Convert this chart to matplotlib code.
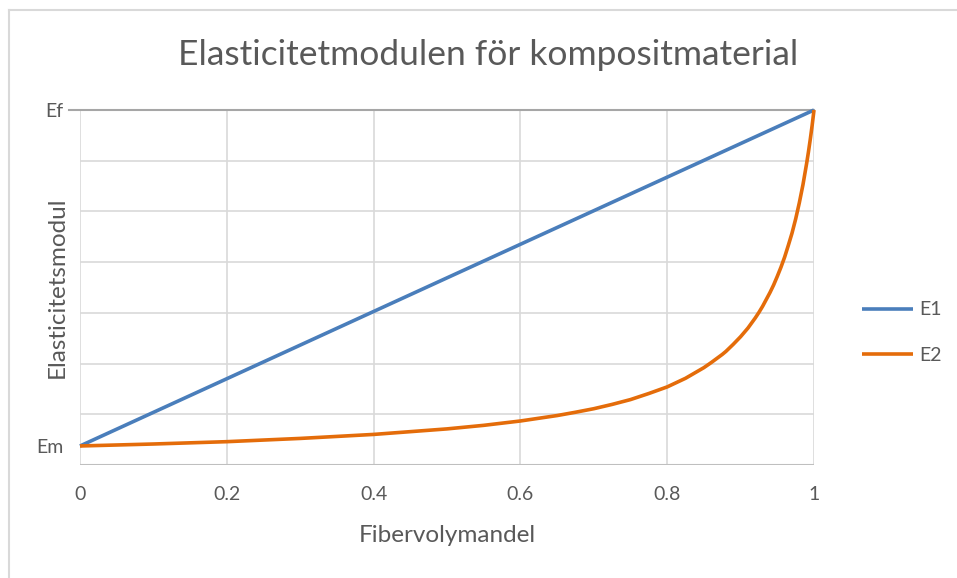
import matplotlib
matplotlib.use("Agg")
import matplotlib.pyplot as plt
from matplotlib.lines import Line2D

# ---- data (y in grid units, 0..7) ----
v_e1 = [0.0, 0.5, 1.0]
e1 = [0.375, 3.69, 7.0]

v_e2 = [0.0, 0.1, 0.2, 0.3, 0.4, 0.5, 0.55, 0.6, 0.65, 0.675, 0.7, 0.725, 0.75,
        0.775, 0.8, 0.825, 0.85, 0.86, 0.875, 0.88, 0.89, 0.9, 0.91, 0.92,
        0.925, 0.93, 0.94, 0.945, 0.95, 0.955, 0.96, 0.965, 0.97, 0.975, 0.98,
        0.985, 0.99, 0.9925, 0.995, 0.9975, 1.0]
e2 = [0.375, 0.414, 0.46, 0.524, 0.603, 0.712, 0.782, 0.868, 0.975, 1.04,
      1.11, 1.195, 1.29, 1.41, 1.54, 1.71, 1.92, 2.02, 2.18, 2.24, 2.38, 2.53,
      2.70, 2.90, 3.01, 3.13, 3.40, 3.55, 3.72, 3.90, 4.10, 4.33, 4.57, 4.85,
      5.17, 5.53, 5.95, 6.18, 6.43, 6.70, 7.0]

series_names = ["E1", "E2"]
x_ticks = [0, 0.2, 0.4, 0.6, 0.8, 1]
x_ticklabels = ["0", "0.2", "0.4", "0.6", "0.8", "1"]
y_ticks = [0.375, 7.0]
y_ticklabels = ["Em", "Ef"]
grid_y = [1, 2, 3, 4, 5, 6]

title = "Elasticitetmodulen för kompositmaterial"
xlabel = "Fibervolymandel"
ylabel = "Elasticitetsmodul"

# ---- styling ----
W, H = 957, 578
txt = "#595959"
blue = "#4A7EBB"
orange = "#E46C0A"
gridc = "#d9d9d9"
font = "Lato"

fig = plt.figure(figsize=(W / 100, H / 100), dpi=100)
fig.patch.set_facecolor("white")
ax = fig.add_axes([80 / W, 113 / H, 734 / W, 355 / H])
ax.set_xlim(0, 1)
ax.set_ylim(0, 7)

for s in ax.spines.values():
    s.set_visible(False)

# grid
for g in grid_y:
    ax.axhline(g, color=gridc, lw=1.2, zorder=1)
for xv in x_ticks:
    ax.axvline(xv, color=gridc, lw=1.2, zorder=1)
# bottom axis line
ax.axhline(0, color="#bfbfbf", lw=1.5, zorder=2)
# top line with small tick out to the left
ax.plot([-0.015, 1.0], [7, 7], color="#a6a6a6", lw=1.5, clip_on=False,
        transform=ax.get_yaxis_transform(), zorder=2)

ax.plot(v_e1, e1, color=blue, lw=2.6, label=series_names[0], zorder=4,
        solid_capstyle="butt", clip_on=False)
ax.plot(v_e2, e2, color=orange, lw=2.6, label=series_names[1], zorder=4,
        solid_capstyle="butt", solid_joinstyle="round", clip_on=False)

ax.set_xticks(x_ticks)
ax.set_xticklabels(x_ticklabels)
ax.set_yticks(y_ticks)
ax.set_yticklabels(y_ticklabels)
ax.tick_params(axis="both", length=0, labelcolor=txt, labelsize=14)
ax.tick_params(axis="x", pad=15)
ax.tick_params(axis="y", pad=12)
for lab in ax.get_xticklabels() + ax.get_yticklabels():
    lab.set_fontfamily(font)

ax.set_xlabel(xlabel, color=txt, fontsize=17.5, fontfamily=font)
ax.xaxis.set_label_coords(0.5, -(536 - 465) / 355)
ax.xaxis.label.set_va("center")
ax.set_ylabel(ylabel, color=txt, fontsize=17.5, fontfamily=font)
ax.yaxis.set_label_coords(-(80 - 68) / 734, 0.5)

fig.text(488 / W, 1 - 55 / H, title, ha="center", va="center", color=txt,
         fontsize=25.5, fontfamily=font, fontweight="normal")

leg = fig.legend(loc="center left", bbox_to_anchor=(862 / W, 1 - 332.5 / H),
                 frameon=False, handlelength=2.6, handletextpad=0.35,
                 labelspacing=1.45, borderpad=0, borderaxespad=0,
                 prop={"family": font, "size": 14})
for t in leg.get_texts():
    t.set_color(txt)

# chart area border (top & left visible)
fig.add_artist(Line2D([9 / W, 1.0], [1 - 10 / H, 1 - 10 / H], color=gridc,
                      lw=1.5, transform=fig.transFigure))
fig.add_artist(Line2D([9 / W, 9 / W], [0.0, 1 - 10 / H], color=gridc,
                      lw=1.5, transform=fig.transFigure))

fig.savefig("out.png", dpi=100, facecolor="white")
